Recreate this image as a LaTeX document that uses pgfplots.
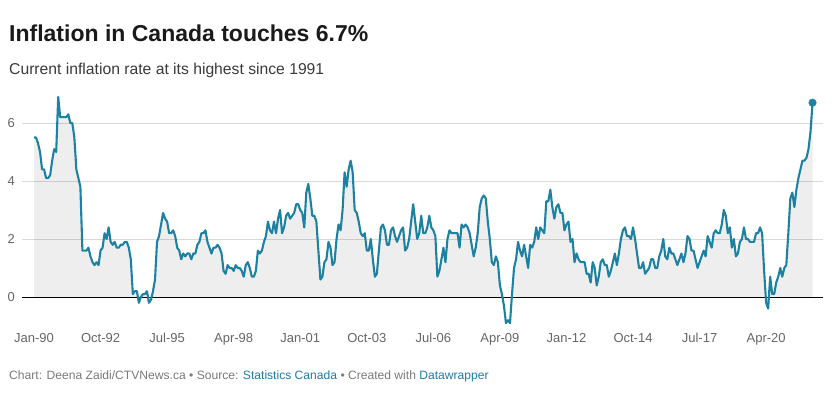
\documentclass[border=0pt]{standalone}
\usepackage{pgfplots}
\pgfplotsset{compat=1.18}
\usepackage{pgfplotstable}
\usepackage{fontspec}
\setmainfont{Liberation Sans}
\definecolor{linec}{HTML}{1D81A2}
\definecolor{gridc}{HTML}{D9D9D9}
\definecolor{tickc}{HTML}{666666}
\definecolor{footc}{HTML}{7A7A7A}
\definecolor{linkc}{HTML}{1F7BAA}
\definecolor{titc}{HTML}{1A1A1A}
\definecolor{subc}{HTML}{3A3A3A}

% Canada CPI, 12-month % change, Jan 1990 - Mar 2022 (one row per year)
\pgfplotstableread[row sep=\\]{
v\\
5.5\\5.5\\5.3\\5.0\\4.4\\4.4\\4.1\\4.1\\4.2\\4.7\\5.1\\5.0\\
6.9\\6.2\\6.2\\6.2\\6.2\\6.3\\6.0\\6.0\\5.5\\4.4\\4.1\\3.8\\
1.6\\1.6\\1.6\\1.7\\1.4\\1.2\\1.1\\1.2\\1.1\\1.6\\1.7\\2.2\\
2.0\\2.4\\1.9\\1.8\\1.9\\1.7\\1.7\\1.8\\1.8\\1.9\\1.9\\1.7\\
1.3\\0.1\\0.2\\0.2\\-0.2\\0.0\\0.1\\0.1\\0.2\\-0.2\\-0.1\\0.2\\
0.6\\1.9\\2.1\\2.5\\2.9\\2.7\\2.6\\2.2\\2.2\\2.3\\2.1\\1.7\\
1.6\\1.3\\1.5\\1.4\\1.5\\1.5\\1.3\\1.5\\1.5\\1.8\\1.9\\2.2\\
2.2\\2.3\\1.9\\1.7\\1.5\\1.7\\1.7\\1.8\\1.7\\1.5\\0.9\\0.8\\
1.1\\1.0\\1.0\\0.9\\1.1\\1.0\\1.0\\0.9\\0.7\\1.1\\1.2\\1.0\\
0.7\\0.7\\0.9\\1.6\\1.5\\1.6\\1.9\\2.1\\2.6\\2.3\\2.2\\2.6\\
2.2\\2.7\\3.0\\2.2\\2.4\\2.8\\2.9\\2.7\\2.8\\2.9\\3.2\\3.2\\
3.0\\2.9\\2.4\\3.6\\3.9\\3.4\\2.8\\2.8\\2.6\\1.6\\0.6\\0.7\\
1.2\\1.3\\1.9\\1.7\\1.1\\1.2\\2.0\\2.5\\2.3\\3.0\\4.3\\3.8\\
4.4\\4.7\\4.3\\3.0\\2.9\\2.6\\2.2\\2.1\\2.2\\1.6\\1.6\\2.0\\
1.3\\0.7\\0.8\\1.6\\2.4\\2.5\\2.3\\1.8\\1.8\\2.3\\2.4\\2.1\\
1.9\\2.1\\2.3\\2.4\\1.6\\1.7\\2.0\\2.6\\3.2\\2.6\\2.0\\2.2\\
2.8\\2.2\\2.2\\2.4\\2.8\\2.4\\2.3\\2.1\\0.7\\0.9\\1.3\\1.7\\
1.2\\2.0\\2.3\\2.2\\2.2\\2.2\\2.2\\1.7\\2.5\\2.4\\2.5\\2.4\\
2.2\\1.8\\1.4\\1.7\\2.2\\3.1\\3.4\\3.5\\3.4\\2.6\\2.0\\1.2\\
1.1\\1.4\\1.2\\0.4\\0.1\\-0.3\\-0.9\\-0.8\\-0.9\\0.1\\1.0\\1.3\\
1.9\\1.6\\1.4\\1.8\\1.4\\1.0\\1.8\\1.7\\1.9\\2.4\\2.0\\2.4\\
2.3\\2.2\\3.3\\3.3\\3.7\\3.1\\2.7\\3.1\\3.2\\2.9\\2.9\\2.3\\
2.5\\2.6\\1.9\\2.0\\1.2\\1.5\\1.3\\1.2\\1.2\\1.2\\0.8\\0.8\\
0.5\\1.2\\1.0\\0.4\\0.7\\1.2\\1.3\\1.1\\1.1\\0.7\\0.9\\1.2\\
1.5\\1.1\\1.5\\2.0\\2.3\\2.4\\2.1\\2.1\\2.0\\2.4\\2.0\\1.5\\
1.0\\1.0\\1.2\\0.8\\0.9\\1.0\\1.3\\1.3\\1.0\\1.0\\1.4\\1.6\\
2.0\\1.4\\1.3\\1.7\\1.5\\1.5\\1.3\\1.1\\1.3\\1.5\\1.2\\1.5\\
2.1\\2.0\\1.6\\1.6\\1.3\\1.0\\1.2\\1.4\\1.6\\1.4\\2.1\\1.9\\
1.7\\2.2\\2.3\\2.2\\2.2\\2.5\\3.0\\2.8\\2.2\\2.4\\1.7\\2.0\\
1.4\\1.5\\1.9\\2.0\\2.4\\2.0\\2.0\\1.9\\1.9\\1.9\\2.2\\2.2\\
2.4\\2.2\\0.9\\-0.2\\-0.4\\0.7\\0.1\\0.1\\0.5\\0.7\\1.0\\0.7\\
1.0\\1.1\\2.2\\3.4\\3.6\\3.1\\3.7\\4.1\\4.4\\4.7\\4.7\\4.8\\
5.1\\5.7\\6.7\\
}\cpi

\begin{document}
\begin{tikzpicture}
\node[anchor=base west, inner sep=0pt, text=titc] at (9pt,356pt)
  {\fontsize{23}{27}\selectfont\bfseries Inflation in Canada touches 6.7\%};
\node[anchor=base west, inner sep=0pt, text=subc] at (9pt,323pt)
  {\fontsize{15.7}{19}\selectfont Current inflation rate at its highest since 1991};
\node[anchor=base west, inner sep=0pt, text=footc] at (9pt,18.5pt)
  {\fontsize{12.1}{14}\selectfont Chart: Deena Zaidi/CTVNews.ca \textbullet\ Source: \textcolor{linkc}{Statistics Canada} \textbullet\ Created with \textcolor{linkc}{Datawrapper}};
\begin{axis}[
  at={(22pt,72pt)}, anchor=south west,
  scale only axis, width=801pt, height=232pt,
  xmin=-5.95, xmax=391.2, ymin=-1, ymax=7,
  clip=false,
  axis line style={draw=none},
  major tick length=0pt,
  xtick={0,33,66,99,132,165,198,231,264,297,330,363},
  xticklabels={Jan-90,Oct-92,Jul-95,Apr-98,Jan-01,Oct-03,Jul-06,Apr-09,Jan-12,Oct-14,Jul-17,Apr-20},
  ytick={2,4,6},
  extra y ticks={0},
  extra y tick style={grid style={black, line width=0.9pt}},
  ymajorgrids,
  grid style={gridc, line width=0.8pt},
  /pgf/number format/assume math mode=true,
  xticklabel style={anchor=base, inner sep=0pt, yshift=-17pt, text=tickc, font=\fontsize{13}{15}\selectfont},
  yticklabel style={anchor=east, inner sep=0pt, xshift=-7pt, text=tickc, font=\fontsize{13}{15}\selectfont},
]
\begin{scope}
\clip (axis cs:-5.95,0) rectangle (axis cs:391.2,7);
\addplot[fill=black, fill opacity=0.065, draw=none, forget plot]
  table[x expr=\coordindex, y=v]{\cpi} \closedcycle;
\end{scope}
\addplot[linec, line width=2.1pt, line join=round, mark=*, mark indices={387},
  mark size=3.8pt, mark options={solid, fill=linec, draw=linec, line width=0.4pt}]
  table[x expr=\coordindex, y=v]{\cpi};
\end{axis}
\path (0,0) rectangle (834pt,398pt);
\end{tikzpicture}
\end{document}
